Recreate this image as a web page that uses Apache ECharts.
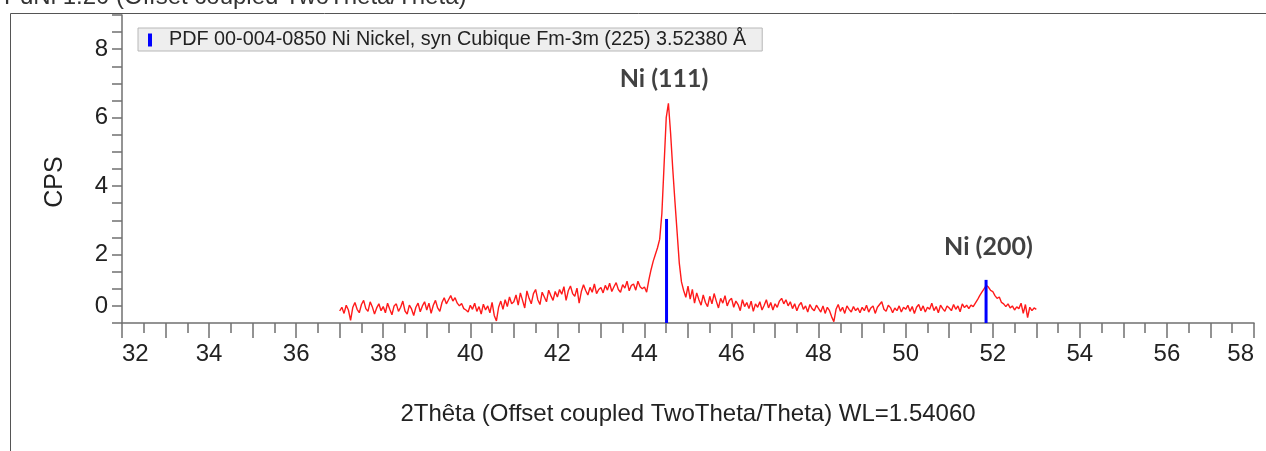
<!DOCTYPE html>
<html>
<head>
<meta charset="utf-8">
<script src="https://cdn.jsdelivr.net/npm/echarts@6/dist/echarts.min.js"></script>
<style>
html,body{margin:0;padding:0;background:#fff;}
#chart{width:1266px;height:451px;}
</style>
</head>
<body>
<div id="chart"></div>
<script>
// ---- data (vertical values in the plot's own CPS scale) ----
const twoThetaStart = 37.0;
const twoThetaStep = 0.05;
const cps = [
  // 37.00 - 37.95
  0.35,0.46,0.28,0.52,0.38,0.08,0.45,0.60,0.40,0.30,0.54,0.66,0.42,0.34,0.62,0.47,0.26,0.44,0.56,0.36,
  // 38.00 - 38.95
  0.48,0.30,0.58,0.40,0.24,0.50,0.56,0.34,0.46,0.64,0.35,0.26,0.52,0.41,0.22,0.46,0.58,0.33,0.50,0.62,
  // 39.00 - 39.95
  0.38,0.58,0.28,0.52,0.66,0.44,0.34,0.60,0.74,0.56,0.68,0.80,0.64,0.74,0.58,0.50,0.57,0.42,0.38,0.32,
  // 40.00 - 40.95
  0.52,0.40,0.58,0.34,0.48,0.26,0.55,0.38,0.50,0.30,0.60,0.22,0.06,0.46,0.64,0.40,0.68,0.48,0.76,0.56,
  // 41.00 - 41.95
  0.62,0.82,0.52,0.88,0.66,0.44,0.94,0.72,0.56,0.86,0.98,0.68,0.54,0.90,0.76,0.62,0.96,0.80,0.66,0.92,
  // 42.00 - 42.95
  0.76,0.98,0.84,1.06,0.66,0.94,1.08,0.86,0.78,1.02,0.58,0.92,1.12,0.95,0.82,1.04,0.90,1.14,0.86,0.98,
  // 43.00 - 43.95
  1.04,0.88,1.10,0.96,1.16,0.92,1.06,1.18,0.98,0.90,1.12,1.02,1.22,0.94,1.10,1.14,0.96,1.22,1.06,1.00,
  // 44.00 - 44.95
  1.05,0.90,1.25,1.55,1.80,2.00,2.20,2.45,3.20,4.60,6.00,6.42,5.55,4.50,3.55,2.65,1.75,1.20,0.95,0.75,
  // 45.00 - 45.95
  1.08,0.70,0.98,0.58,0.88,0.68,0.52,0.82,0.60,0.48,0.78,0.56,0.86,0.64,0.44,0.72,0.58,0.80,0.50,0.66,
  // 46.00 - 46.95
  0.72,0.46,0.64,0.54,0.36,0.68,0.48,0.60,0.42,0.64,0.34,0.56,0.46,0.62,0.38,0.52,0.68,0.44,0.60,0.38,
  // 47.00 - 47.95
  0.56,0.46,0.64,0.72,0.56,0.68,0.50,0.62,0.42,0.56,0.36,0.52,0.60,0.40,0.50,0.32,0.54,0.42,0.36,0.52,
  // 48.00 - 48.95
  0.42,0.32,0.50,0.28,0.46,0.36,0.18,0.04,0.40,0.54,0.34,0.46,0.28,0.50,0.40,0.32,0.48,0.36,0.44,0.30,
  // 49.00 - 49.95
  0.46,0.36,0.52,0.32,0.44,0.50,0.28,0.46,0.54,0.62,0.40,0.34,0.52,0.45,0.30,0.44,0.36,0.50,0.32,0.46,
  // 50.00 - 50.95
  0.40,0.52,0.34,0.48,0.28,0.46,0.54,0.36,0.50,0.32,0.46,0.40,0.58,0.36,0.48,0.30,0.52,0.42,0.34,0.50,
  // 51.00 - 51.95
  0.44,0.36,0.54,0.40,0.50,0.33,0.56,0.45,0.52,0.42,0.52,0.48,0.58,0.68,0.80,0.90,1.00,1.10,1.05,0.95,
  // 52.00 - 52.95
  0.92,0.80,0.72,0.76,0.60,0.56,0.48,0.56,0.44,0.50,0.38,0.47,0.42,0.58,0.28,0.54,0.16,0.46,0.36,0.44,
  // 53.00
  0.40
];

const refName = 'PDF 00-004-0850 Ni Nickel, syn Cubique Fm-3m (225) 3.52380 Å';
const refTwoTheta = [44.507, 51.846];
const refIntensity = [3.04, 1.26];

const peakLabels = ['Ni (111)', 'Ni (200)'];
const peakTwoTheta = [44.45, 51.9];
const peakCps = [6.42, 1.10];

const yTickValues = [0.5, 2, 4, 6, 8];
const yTickLabels = ['0', '2', '4', '6', '8'];

const titleText = 'PdNi 1.20 (Offset coupled TwoTheta/Theta)';
const xAxisTitle = '2Thêta (Offset coupled TwoTheta/Theta) WL=1.54060';
const yAxisTitle = 'CPS';

// ---- build ----
const linePoints = cps.map((v, i) => [+(twoThetaStart + i * twoThetaStep).toFixed(2), v]);
const refPoints = refTwoTheta.map((x, i) => [x, refIntensity[i]]);
const peakPoints = peakTwoTheta.map((x, i) => ({ value: [x, peakCps[i]], name: peakLabels[i] }));

const FONT = '"Liberation Sans", Arial, sans-serif';
const axisGray = '#707070';

const chart = echarts.init(document.getElementById('chart'), null, { renderer: 'canvas' });
chart.setOption({
  animation: false,
  backgroundColor: '#ffffff',
  grid: { left: 122, right: 12, top: 15, bottom: 128 },
  legend: {
    left: 138, top: 28,
    data: [{ name: refName, icon: 'rect' }],
    itemWidth: 4, itemHeight: 13, itemGap: 6,
    padding: [2, 16, 1, 10],
    backgroundColor: '#eeeeee',
    borderColor: '#b8b8b8', borderWidth: 1, borderRadius: 0,
    textStyle: { fontFamily: FONT, fontSize: 19.8, lineHeight: 20, color: '#222', padding: [0, 0, 0, 12] },
    selectedMode: false
  },
  xAxis: {
    type: 'value', min: 32, max: 58, interval: 1,
    name: xAxisTitle, nameLocation: 'middle', nameGap: 79,
    nameTextStyle: { fontFamily: FONT, fontSize: 24, color: '#222' },
    axisLine: { show: true, onZero: false, lineStyle: { color: axisGray, width: 1.5 } },
    axisTick: { show: true, inside: false, length: 15, lineStyle: { color: axisGray, width: 1.5 } },
    minorTick: { show: true, splitNumber: 2, length: 10, lineStyle: { color: axisGray, width: 1.5 } },
    splitLine: { show: false },
    axisLabel: {
      fontFamily: FONT, fontSize: 24, color: '#222', margin: 19,
      alignMinLabel: 'left', alignMaxLabel: 'right',
      formatter: v => (Math.round(v) % 2 === 0 ? String(Math.round(v)) : '')
    }
  },
  yAxis: {
    type: 'value', min: 0, max: 9, interval: 0.5,
    axisLine: { show: true, onZero: false, lineStyle: { color: axisGray, width: 1.5 } },
    axisTick: { show: true, length: 10, lineStyle: { color: axisGray, width: 1.5 } },
    splitLine: { show: false },
    axisLabel: {
      fontFamily: FONT, fontSize: 24, color: '#222', margin: 14,
      formatter: v => {
        const k = yTickValues.findIndex(t => Math.abs(t - v) < 1e-6);
        return k >= 0 ? yTickLabels[k] : '';
      }
    }
  },
  series: [
    {
      name: 'scan', type: 'line', data: linePoints, showSymbol: false, symbol: 'none',
      lineStyle: { color: '#ff1a1a', width: 1.4 }, z: 3, silent: true
    },
    {
      name: refName, type: 'bar', data: refPoints, barWidth: 3,
      itemStyle: { color: '#0000ff' }, z: 4, silent: true
    },
    {
      name: 'peaks', type: 'scatter', data: peakPoints, symbolSize: 0, silent: true, z: 5,
      label: {
        show: true, position: 'top',
        formatter: p => p.name,
        fontFamily: 'Lato, "Open Sans", sans-serif', fontWeight: 'bold', fontSize: 25, color: '#111'
      },
      labelLayout: p => ({ dy: p.dataIndex === 0 ? -7 : -21 })
    }
  ],
  graphic: [
    { type: 'rect', shape: { x: 10.5, y: 13.5, width: 1400, height: 600 },
      style: { fill: 'none', stroke: '#555', lineWidth: 1 }, z: 0, silent: true },
    { type: 'text', left: 4, top: -15,
      style: { text: titleText, fontFamily: FONT, fontSize: 24, fill: '#333' }, silent: true },
    { type: 'text', x: 55, y: 182, rotation: Math.PI / 2,
      style: { text: yAxisTitle, fontFamily: FONT, fontSize: 25, fill: '#222',
               align: 'center', verticalAlign: 'middle' }, silent: true }
  ]
});
</script>
</body>
</html>
